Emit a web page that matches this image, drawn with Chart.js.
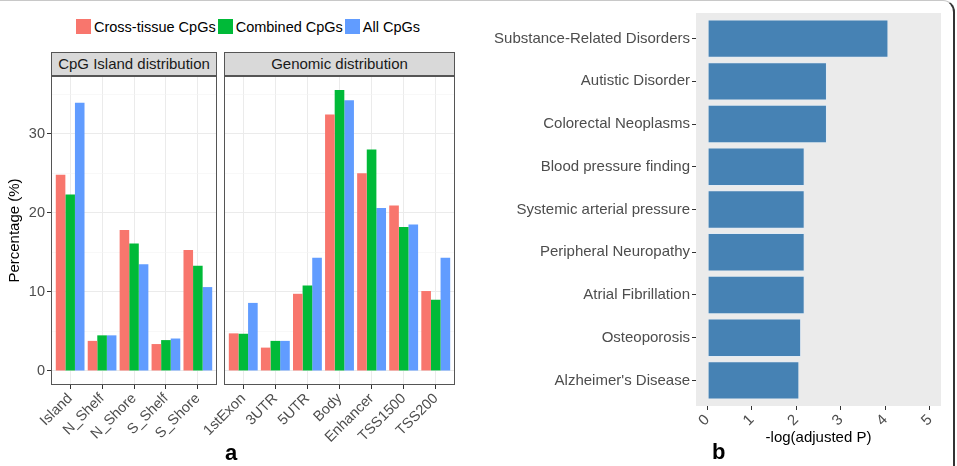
<!DOCTYPE html>
<html>
<head>
<meta charset="utf-8">
<script src="https://cdn.jsdelivr.net/npm/chart.js@4/dist/chart.umd.min.js"></script>
<style>
  body { margin: 0; width: 957px; height: 466px; position: relative; overflow: hidden; background: #fff; font-family: "Liberation Sans", Arial, sans-serif; }
  .box { position: absolute; }
  #frame { left: -20px; top: 0; width: 975px; height: 520px; box-sizing: border-box; border-top: 1px solid #c8c8c8; border-right: 2px solid #333; border-top-right-radius: 12px; }
  #legend { left: 76px; top: 19px; height: 15px; display: flex; align-items: center; font-size: 14.5px; color: #000; }
  #legend .key { width: 15px; height: 15px; margin-right: 3px; }
  #legend .lbl { margin-right: 2px; }
  .strip { position: absolute; top: 52px; height: 24px; box-sizing: border-box; border: 1px solid #555; background: #d9d9d9; color: #1a1a1a; font-size: 15px; line-height: 22px; text-align: center; }
  .tag { position: absolute; font-weight: bold; font-size: 22px; color: #000; }
</style>
</head>
<body>
<div id="frame" class="box"></div>
<div id="legend" class="box"></div>
<div class="strip" style="left:51px;width:166px;">CpG Island distribution</div>
<div class="strip" style="left:224px;width:231px;">Genomic distribution</div>
<div class="box" style="left:0;top:76px;width:222px;height:390px;"><canvas id="leftChart" width="222" height="390"></canvas></div>
<div class="box" style="left:180px;top:76px;width:280px;height:390px;"><canvas id="rightChart" width="280" height="390"></canvas></div>
<div class="box" style="left:480px;top:0;width:477px;height:466px;"><canvas id="enrichChart" width="477" height="466"></canvas></div>
<div class="tag" style="left:225px;top:440px;">a</div>
<div class="tag" style="left:712px;top:439px;">b</div>

<script>
// ---- data ----
const seriesNames = ['Cross-tissue CpGs', 'Combined CpGs', 'All CpGs'];
const seriesColors = ['#F8766D', '#00BA38', '#619CFF'];

const islandCats = ['Island', 'N_Shelf', 'N_Shore', 'S_Shelf', 'S_Shore'];
const crossIsland = [24.8, 3.8, 17.8, 3.4, 15.3];
const combinedIsland = [22.3, 4.5, 16.1, 3.9, 13.3];
const allIsland = [33.9, 4.5, 13.5, 4.1, 10.6];

const genomicCats = ['1stExon', '3UTR', '5UTR', 'Body', 'Enhancer', 'TSS1500', 'TSS200'];
const crossGenomic = [4.75, 2.95, 9.75, 32.4, 25.0, 20.9, 10.1];
const combinedGenomic = [4.7, 3.8, 10.8, 35.5, 28.0, 18.2, 9.0];
const allGenomic = [8.6, 3.8, 14.3, 34.2, 20.6, 18.5, 14.3];

const pctBreaks = [0, 10, 20, 30];
const pctMinor = [5, 15, 25, 35];

const diseases = ['Substance-Related Disorders', 'Autistic Disorder', 'Colorectal Neoplasms',
  'Blood pressure finding', 'Systemic arterial pressure', 'Peripheral Neuropathy',
  'Atrial Fibrillation', 'Osteoporosis', "Alzheimer's Disease"];
const negLogP = [4.07, 2.69, 2.69, 2.19, 2.19, 2.19, 2.19, 2.11, 2.07];
const pBreaks = [0, 1, 2, 3, 4, 5];

Chart.defaults.font.family = '"Liberation Sans", Arial, sans-serif';
Chart.defaults.animation = false;

// legend (html)
const legend = document.getElementById('legend');
seriesNames.forEach((name, i) => {
  const k = document.createElement('span');
  k.className = 'key';
  k.style.background = seriesColors[i];
  const t = document.createElement('span');
  t.className = 'lbl';
  t.textContent = name;
  legend.appendChild(k);
  legend.appendChild(t);
});

// ggplot pads discrete axes by 0.6 of a category, Chart.js only by 0.5
function ggExpand(scale) {
  scale._startValue -= 0.1;
  scale._valueRange += 0.2;
}

// panel border / background like ggplot
const panelPlugin = {
  id: 'panel',
  beforeDraw(chart, args, opts) {
    if (!opts.fill) return;
    const a = chart.chartArea, ctx = chart.ctx;
    ctx.save();
    ctx.fillStyle = opts.fill;
    ctx.fillRect(a.left, a.top, a.right - a.left, a.bottom - a.top);
    ctx.restore();
  },
  afterDraw(chart, args, opts) {
    if (!opts.stroke) return;
    const a = chart.chartArea, ctx = chart.ctx;
    ctx.save();
    ctx.strokeStyle = opts.stroke;
    ctx.lineWidth = 1;
    ctx.strokeRect(a.left + 0.5, a.top + 0.5, a.right - a.left - 1, a.bottom - a.top - 1);
    ctx.restore();
  }
};

function facetChart(id, cats, d1, d2, d3, yWidth, showY) {
  const sets = [d1, d2, d3];
  return new Chart(document.getElementById(id), {
    type: 'bar',
    plugins: [panelPlugin],
    data: {
      labels: cats,
      datasets: sets.map((d, i) => ({
        label: seriesNames[i],
        data: d,
        backgroundColor: seriesColors[i],
        borderWidth: 0,
        categoryPercentage: 0.9,
        barPercentage: 1.0
      }))
    },
    options: {
      responsive: false,
      layout: { padding: { left: 0, right: 5, top: 0, bottom: 0 } },
      plugins: {
        legend: { display: false },
        tooltip: { enabled: false },
        panel: { stroke: '#555' }
      },
      scales: {
        x: {
          border: { display: false },
          grid: { offset: false, color: '#ebebeb', lineWidth: 1, tickColor: '#333', tickLength: 4 },
          ticks: { color: '#4d4d4d', font: { size: 14.5 }, minRotation: 45, maxRotation: 45, padding: 1, autoSkip: false },
          afterBuildTicks: ggExpand,
          afterFit(s) { s.height = 81; s.paddingLeft = 0; s.paddingRight = 0; }
        },
        y: {
          min: -1.775,
          max: 37.275,
          border: { display: false },
          grid: {
            color: c => pctBreaks.includes(c.tick.value) ? '#ebebeb' : '#f3f3f3',
            lineWidth: c => pctBreaks.includes(c.tick.value) ? 1 : 0.6,
            tickColor: c => (showY && pctBreaks.includes(c.tick.value)) ? '#333' : 'transparent',
            tickLength: 4
          },
          ticks: {
            display: showY,
            color: '#4d4d4d',
            font: { size: 14.5 },
            padding: 2,
            callback: v => pctBreaks.includes(v) ? String(v) : ''
          },
          title: {
            display: showY,
            text: 'Percentage (%)',
            color: '#000',
            font: { size: 15 },
            padding: { top: 6, bottom: 0 }
          },
          afterBuildTicks(s) {
            s.ticks = pctBreaks.concat(pctMinor).sort((a, b) => a - b).map(v => ({ value: v }));
          },
          afterFit(s) { s.width = yWidth; s.paddingTop = 0; s.paddingBottom = 0; }
        }
      }
    }
  });
}

facetChart('leftChart', islandCats, crossIsland, combinedIsland, allIsland, 51, true);
facetChart('rightChart', genomicCats, crossGenomic, combinedGenomic, allGenomic, 44, false);

// panel b
new Chart(document.getElementById('enrichChart'), {
  type: 'bar',
  plugins: [panelPlugin],
  data: {
    labels: diseases,
    datasets: [{
      data: negLogP,
      backgroundColor: '#4682B4',
      borderColor: 'rgba(225,235,245,0.8)',
      borderWidth: 1,
      borderSkipped: false,
      categoryPercentage: 0.9,
      barPercentage: 1.0
    }]
  },
  options: {
    responsive: false,
    indexAxis: 'y',
    layout: { padding: { left: 0, right: 16, top: 13, bottom: 0 } },
    plugins: {
      legend: { display: false },
      tooltip: { enabled: false },
      panel: { fill: '#ebebeb' }
    },
    scales: {
      x: {
        min: -0.25,
        max: 5.25,
        border: { display: false },
        grid: { drawOnChartArea: false, color: 'transparent', tickColor: '#333', tickLength: 4 },
        ticks: { color: '#4d4d4d', font: { size: 15 }, minRotation: 45, maxRotation: 45, padding: 1 },
        title: { display: true, text: '-log(adjusted P)', color: '#000', font: { size: 15 }, padding: { top: 0, bottom: 19 } },
        afterBuildTicks(s) { s.ticks = pBreaks.map(v => ({ value: v })); },
        afterFit(s) { s.height = 60; s.paddingLeft = 0; s.paddingRight = 0; }
      },
      y: {
        border: { display: false },
        grid: { drawOnChartArea: false, color: 'transparent', offset: false, tickColor: '#333', tickLength: 4 },
        ticks: { color: '#4d4d4d', font: { size: 15 }, padding: 2, autoSkip: false },
        afterBuildTicks: ggExpand,
        afterFit(s) { s.width = 216; s.paddingTop = 0; s.paddingBottom = 0; }
      }
    }
  }
});
</script>
</body>
</html>
